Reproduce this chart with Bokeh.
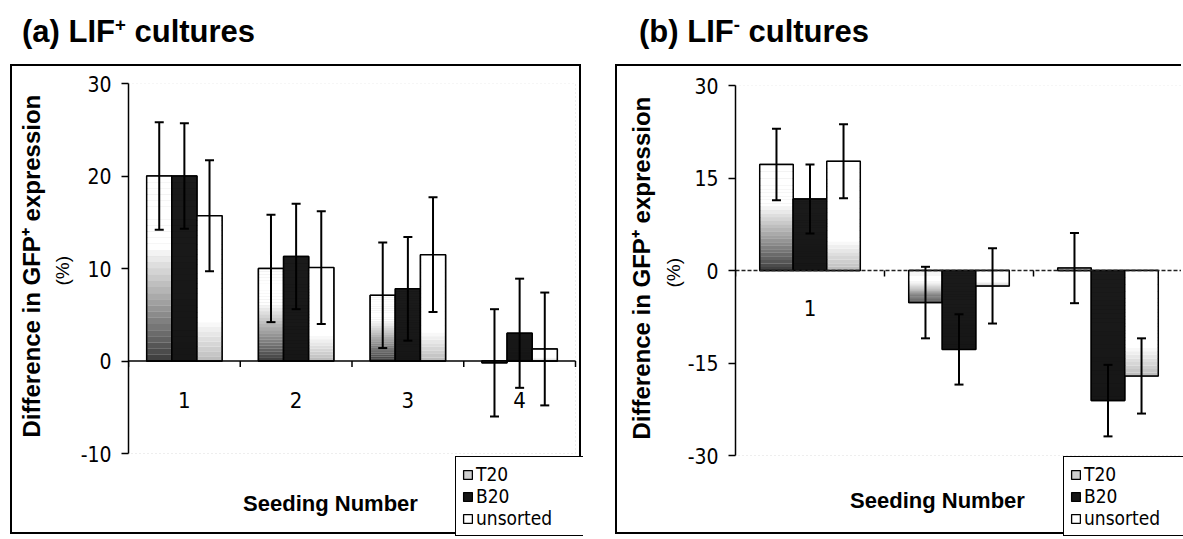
from bokeh.plotting import figure
from bokeh.models import (ColumnDataSource, Whisker, TeeHead, Range1d, FixedTicker,
                          Legend, LegendItem, Div, Label, BoxAnnotation, Title)
from bokeh.layouts import row, column
from bokeh.embed import file_html
from bokeh.resources import INLINE
from bokeh.core.properties import value

# ---- data: difference in GFP+ expression (%) per seeding number ----
seeding_a = ["1", "2", "3", "4"]
t20_a = [20.0, 10.0, 7.1, -0.2]
b20_a = [20.0, 11.3, 7.8, 3.0]
unsorted_a = [15.7, 10.1, 11.5, 1.3]
t20_a_err = [5.8, 5.8, 5.7, 5.8]
b20_a_err = [5.7, 5.7, 5.6, 5.9]
unsorted_a_err = [6.0, 6.1, 6.2, 6.1]
yticks_a = [-10, 0, 10, 20, 30]

seeding_b = ["1", "2", "3"]
t20_b = [17.2, -5.2, 0.4]
b20_b = [11.6, -12.8, -21.1]
unsorted_b = [17.7, -2.5, -17.1]
t20_b_err = [5.8, 5.8, 5.7]
b20_b_err = [5.6, 5.7, 5.8]
unsorted_b_err = [6.0, 6.1, 6.1]
yticks_b = [-30, -15, 0, 15, 30]

series_names = ["T20", "B20", "unsorted"]

NARROW = "DejaVu Sans Condensed"
SANS = "Liberation Sans"

BAR_W = 0.225
OFFSETS = [-BAR_W, 0.0, BAR_W]
# (legend swatch colour, darkest grey level at the bar bottom, fraction of height to fade to white)
STYLES = [("#cfcfcf", 60, 0.62), ("#161616", 22, 50.0), ("#ffffff", 185, 0.28)]


def gradient_slices(xs, vals, dark, fade, n=30):
    """Split each bar into thin horizontal strips shaded from dark (bottom) to white."""
    d = dict(left=[], right=[], bottom=[], top=[], color=[])
    for x, v in zip(xs, vals):
        lo, hi = min(0.0, v), max(0.0, v)
        h = hi - lo
        for i in range(n):
            f = min(1.0, ((i + 0.5) / n) / fade)
            g = int(round(dark + (255 - dark) * f))
            d["left"].append(x - BAR_W / 2)
            d["right"].append(x + BAR_W / 2)
            d["bottom"].append(lo + h * i / n)
            d["top"].append(lo + h * (i + 1) / n)
            d["color"].append("#%02x%02x%02x" % (g, g, g))
    return d


def make_panel(cats, values, errors, y_lo, y_hi, yticks, width, height,
               border_left, border_top, plot_w, plot_h, zero_dash,
               legend_xy, xlabel_xy, label_drop, pct_gap, title_gap, css):
    n = len(cats)
    frame_w = width - border_left
    frame_h = height - border_top
    # the frame runs to the panel's right and bottom edges; the value area is plot_w x plot_h
    px_x = plot_w / n
    px_y = plot_h / (y_hi - y_lo)
    x_end = 0.5 + frame_w / px_x
    y_start = y_hi - frame_h / px_y

    p = figure(width=width, height=height, output_backend="svg", toolbar_location=None,
               x_range=Range1d(0.5, x_end), y_range=Range1d(y_start, y_hi),
               min_border_left=border_left, min_border_right=0,
               min_border_top=border_top, min_border_bottom=0)
    p.styles = css
    p.grid.visible = False
    p.background_fill_color = "white"
    p.border_fill_color = "white"
    p.outline_line_color = None
    p.xaxis.visible = False

    # dotted plot-area border
    p.add_layout(BoxAnnotation(left=0.5, right=n + 0.5, bottom=y_lo, top=y_hi,
                               fill_alpha=0, line_color="#8a8a8a", line_dash="1 3",
                               line_width=1, level="underlay"))

    centers = list(range(1, n + 1))

    # category numbers sit below the zero line; bars drawn afterwards may cover them
    p.text(x=centers, y=[0] * n, text=cats, y_offset=label_drop, text_align="center",
           text_baseline="middle", text_font=value(NARROW), text_font_size="22px",
           text_color="black")

    legend_items = []
    for k, name in enumerate(series_names):
        xs = [c + OFFSETS[k] for c in centers]
        swatch, dark, fade = STYLES[k]
        base = p.vbar(x=xs, top=values[k], bottom=0, width=BAR_W, fill_color=swatch,
                      line_color="black", line_width=1.3)
        legend_items.append(LegendItem(label=name, renderers=[base]))
        p.quad(source=ColumnDataSource(gradient_slices(xs, values[k], dark, fade)),
               left="left", right="right", bottom="bottom", top="top",
               fill_color="color", line_color=None)
        p.vbar(x=xs, top=values[k], bottom=0, width=BAR_W, fill_color=None,
               line_color="black", line_width=1.5)

    # category axis along the zero line, with ticks between the seeding groups
    zl = p.segment(x0=[0.5], x1=[n + 0.5], y0=[0], y1=[0], line_color="black",
                   line_width=1.5)
    if zero_dash:
        zl.glyph.line_dash = zero_dash
        zl.glyph.line_color = "#222222"
    tick_len = 6 / px_y
    bounds = [c + 0.5 for c in range(0, n + 1)]
    p.segment(x0=bounds, x1=bounds, y0=[0] * len(bounds), y1=[-tick_len] * len(bounds),
              line_color="black", line_width=1.5)

    for k in range(3):
        xs = [c + OFFSETS[k] for c in centers]
        src = ColumnDataSource(dict(
            x=xs,
            upper=[v + e for v, e in zip(values[k], errors[k])],
            lower=[v - e for v, e in zip(values[k], errors[k])]))
        w = Whisker(source=src, base="x", upper="upper", lower="lower",
                    line_color="black", line_width=2, level="annotation",
                    upper_head=TeeHead(size=9, line_color="black", line_width=2),
                    lower_head=TeeHead(size=9, line_color="black", line_width=2))
        p.add_layout(w)

    ya = p.yaxis[0]
    ya.bounds = (y_lo, y_hi)
    ya.ticker = FixedTicker(ticks=yticks)
    ya.major_label_overrides = {t: str(t) for t in yticks}
    ya.major_label_text_font = NARROW
    ya.major_label_text_font_size = "21px"
    ya.major_label_text_color = "black"
    ya.major_label_standoff = 10
    ya.major_tick_out = 7
    ya.major_tick_in = 0
    ya.minor_tick_line_color = None
    ya.axis_line_width = 1.5
    ya.major_tick_line_width = 1.5

    # two-line vertical axis title, measured from the bottom of the frame
    bottom_gap = frame_h - plot_h
    p.add_layout(Title(text="(%)", align="left", offset=bottom_gap + 168,
                       standoff=pct_gap, text_font=SANS, text_font_style="normal",
                       text_font_size="19px", text_color="black"), "left")
    p.add_layout(Title(text="Difference in GFP\u207a expression", align="left",
                       offset=bottom_gap + 16, standoff=title_gap, text_font=SANS,
                       text_font_style="bold", text_font_size="24px",
                       text_color="black"), "left")

    p.add_layout(Label(x=xlabel_xy[0], y=xlabel_xy[1], x_units="screen", y_units="screen",
                       text="Seeding Number", text_align="center", text_baseline="middle",
                       text_font=SANS, text_font_style="bold", text_font_size="22px",
                       text_color="black"))

    legend = Legend(items=legend_items, location=legend_xy, orientation="vertical",
                    label_text_font=NARROW, label_text_font_size="19px",
                    label_text_color="black", label_width=103,
                    label_height=22, glyph_height=11, glyph_width=11, label_standoff=3,
                    spacing=0, padding=6, margin=0,
                    border_line_color="black", border_line_width=1.5, border_line_alpha=1.0,
                    background_fill_color="white", background_fill_alpha=1.0)
    p.add_layout(legend)
    return p


def title_div(html, width, pad_left):
    return Div(text=('<div style="font: bold 31px \'Liberation Sans\', sans-serif; '
                     'white-space: nowrap; padding: 14px 0 0 %dpx;">%s</div>' % (pad_left, html)),
               width=width, height=64, margin=(0, 0, 0, 0))


fig_a = make_panel(seeding_a, [t20_a, b20_a, unsorted_a],
                   [t20_a_err, b20_a_err, unsorted_a_err], -10, 30, yticks_a,
                   width=571, height=470, border_left=116, border_top=17,
                   plot_w=447, plot_h=370, zero_dash=None,
                   legend_xy=(327, 0), xlabel_xy=(202, 33), label_drop=39,
                   pct_gap=10, title_gap=0,
                   css={"border": "2px solid black"})
fig_a.margin = (0, 0, 0, 10)

fig_b = make_panel(seeding_b, [t20_b, b20_b, unsorted_b],
                   [t20_b_err, b20_b_err, unsorted_b_err], -30, 30, yticks_b,
                   width=566, height=470, border_left=118, border_top=19,
                   plot_w=447, plot_h=370, zero_dash="4 2",
                   legend_xy=(328, 0), xlabel_xy=(202, 36), label_drop=37,
                   pct_gap=2, title_gap=10,
                   css={"border-left": "2px solid black", "border-top": "2px solid black",
                        "border-bottom": "2px solid black"})
fig_b.margin = (0, 0, 0, 30)

div_a = title_div("(a) LIF<sup style='font-size:60%'>+</sup> cultures", 585, 22)
div_b = title_div("(b) LIF<sup style='font-size:60%'>-</sup> cultures", 598, 54)

layout = row(column(div_a, fig_a), column(div_b, fig_b))

open("out.html", "w").write(file_html(layout, INLINE))
